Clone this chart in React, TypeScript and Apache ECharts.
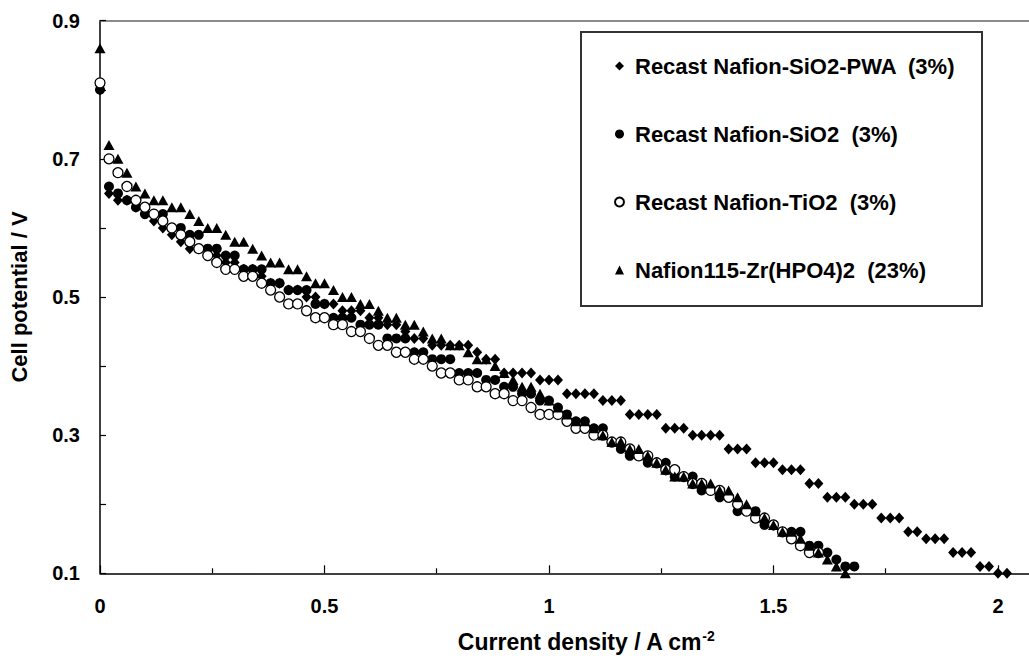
import React, { useEffect, useRef } from "react";
import * as echarts from "echarts";

// Current density (A cm^-2), shared x positions of the measured points
const currentDensity = [
  0, 0.02, 0.04, 0.06, 0.08, 0.1, 0.12, 0.14, 0.16, 0.18,
  0.2, 0.22, 0.24, 0.26, 0.28, 0.3, 0.32, 0.34, 0.36, 0.38,
  0.4, 0.42, 0.44, 0.46, 0.48, 0.5, 0.52, 0.54, 0.56, 0.58,
  0.6, 0.62, 0.64, 0.66, 0.68, 0.7, 0.72, 0.74, 0.76, 0.78,
  0.8, 0.82, 0.84, 0.86, 0.88, 0.9, 0.92, 0.94, 0.96, 0.98,
  1.0, 1.02, 1.04, 1.06, 1.08, 1.1, 1.12, 1.14, 1.16, 1.18,
  1.2, 1.22, 1.24, 1.26, 1.28, 1.3, 1.32, 1.34, 1.36, 1.38,
  1.4, 1.42, 1.44, 1.46, 1.48, 1.5, 1.52, 1.54, 1.56, 1.58,
  1.6, 1.62, 1.64, 1.66, 1.68, 1.7, 1.72, 1.74, 1.76, 1.78,
  1.8, 1.82, 1.84, 1.86, 1.88, 1.9, 1.92, 1.94, 1.96, 1.98,
  2.0, 2.02,
];

// Cell potential (V) per series
const pwaSiO2 = [
  0.80, 0.65, 0.64, 0.64, 0.63, 0.62, 0.61, 0.60, 0.59, 0.58,
  0.57, 0.57, 0.56, 0.56, 0.55, 0.55, 0.54, 0.54, 0.53, 0.52,
  0.52, 0.51, 0.51, 0.50, 0.50, 0.49, 0.49, 0.48, 0.48, 0.48,
  0.47, 0.47, 0.46, 0.46, 0.45, 0.44, 0.44, 0.43, 0.43, 0.43,
  0.43, 0.43, 0.42, 0.41, 0.41, 0.39, 0.39, 0.39, 0.39, 0.38,
  0.38, 0.38, 0.36, 0.36, 0.36, 0.36, 0.35, 0.35, 0.35, 0.33,
  0.33, 0.33, 0.33, 0.31, 0.31, 0.31, 0.30, 0.30, 0.30, 0.30,
  0.28, 0.28, 0.28, 0.26, 0.26, 0.26, 0.25, 0.25, 0.25, 0.23,
  0.23, 0.21, 0.21, 0.21, 0.20, 0.20, 0.20, 0.18, 0.18, 0.18,
  0.16, 0.16, 0.15, 0.15, 0.15, 0.13, 0.13, 0.13, 0.11, 0.11,
  0.10, 0.10,
];

const sio2 = [
  0.80, 0.66, 0.65, 0.64, 0.63, 0.62, 0.62, 0.62, 0.60, 0.60,
  0.59, 0.59, 0.57, 0.57, 0.56, 0.56, 0.54, 0.54, 0.54, 0.52,
  0.52, 0.51, 0.51, 0.51, 0.49, 0.49, 0.47, 0.47, 0.47, 0.46,
  0.46, 0.46, 0.44, 0.44, 0.44, 0.42, 0.42, 0.41, 0.41, 0.41,
  0.39, 0.39, 0.39, 0.38, 0.38, 0.37, 0.37, 0.36, 0.36, 0.35,
  0.35, 0.34, 0.33, 0.32, 0.32, 0.31, 0.31, 0.29, 0.28, 0.27,
  0.27, 0.26, 0.26, 0.26, 0.24, 0.24, 0.24, 0.22, 0.22, 0.21,
  0.21, 0.19, 0.19, 0.19, 0.17, 0.17, 0.16, 0.16, 0.16, 0.14,
  0.14, 0.13, 0.12, 0.11, 0.11,
];

const tio2 = [
  0.81, 0.70, 0.68, 0.66, 0.64, 0.63, 0.62, 0.61, 0.60, 0.59,
  0.58, 0.57, 0.56, 0.55, 0.54, 0.54, 0.53, 0.53, 0.52, 0.51,
  0.50, 0.49, 0.49, 0.48, 0.47, 0.47, 0.46, 0.46, 0.45, 0.45,
  0.44, 0.43, 0.43, 0.42, 0.42, 0.41, 0.41, 0.40, 0.39, 0.39,
  0.38, 0.38, 0.37, 0.37, 0.36, 0.36, 0.35, 0.35, 0.34, 0.33,
  0.33, 0.33, 0.32, 0.31, 0.31, 0.30, 0.30, 0.29, 0.29, 0.28,
  0.27, 0.27, 0.26, 0.25, 0.25, 0.24, 0.23, 0.23, 0.22, 0.22,
  0.21, 0.20, 0.19, 0.18, 0.18, 0.17, 0.16, 0.15, 0.14, 0.13,
  0.13,
];

const nafion115Zr = [
  0.86, 0.72, 0.70, 0.68, 0.66, 0.65, 0.64, 0.64, 0.63, 0.63,
  0.62, 0.61, 0.60, 0.60, 0.59, 0.58, 0.58, 0.57, 0.56, 0.55,
  0.55, 0.54, 0.54, 0.53, 0.52, 0.52, 0.51, 0.50, 0.50, 0.49,
  0.49, 0.48, 0.47, 0.47, 0.46, 0.46, 0.45, 0.44, 0.44, 0.43,
  0.43, 0.42, 0.41, 0.41, 0.40, 0.39, 0.38, 0.37, 0.37, 0.36,
  0.35, 0.34, 0.33, 0.32, 0.32, 0.31, 0.30, 0.29, 0.29, 0.28,
  0.28, 0.27, 0.26, 0.25, 0.24, 0.24, 0.23, 0.23, 0.23, 0.22,
  0.22, 0.21, 0.20, 0.19, 0.18, 0.17, 0.16, 0.16, 0.15, 0.14,
  0.13, 0.12, 0.11, 0.10,
];

const seriesNames = [
  "Recast Nafion-SiO2-PWA  (3%)",
  "Recast Nafion-SiO2  (3%)",
  "Recast Nafion-TiO2  (3%)",
  "Nafion115-Zr(HPO4)2  (23%)",
];

const yTickLabels = ["0.1", "0.3", "0.5", "0.7", "0.9"];

const FONT = "'Liberation Sans', Arial, Helvetica, sans-serif";

function pairs(values: number[]) {
  return values.map((v, i) => [currentDensity[i], v]);
}

export default function App() {
  const ref = useRef<HTMLDivElement>(null);

  useEffect(() => {
    if (!ref.current) return;
    const chart = echarts.init(ref.current, null, { renderer: "svg" });
    const option: any = {
      animation: false,
      backgroundColor: "#fff",
      textStyle: { fontFamily: FONT, fontWeight: "bold", color: "#000" },
      grid: {
        left: 100,
        top: 20.7,
        right: 0.2,
        bottom: 82.7,
        containLabel: false,
        outerBoundsMode: "none",
      },
      xAxis: [
        {
          type: "value",
          position: "bottom",
          min: 0,
          max: 2.2,
          interval: 0.5,
          axisLine: { show: true, lineStyle: { color: "#000", width: 1.5 } },
          axisTick: { show: true, inside: true, length: 8, lineStyle: { color: "#000", width: 1.2 } },
          minorTick: { show: true, splitNumber: 2, length: 5, lineStyle: { color: "#000", width: 1.2 } },
          splitLine: { show: false },
          minorSplitLine: { show: false },
          axisLabel: {
            margin: 23,
            color: "#000",
            fontSize: 20,
            fontWeight: "bold",
            fontFamily: FONT,
            showMaxLabel: false,
          },
          name: "{a|Current density / A cm}{b|-2}",
          nameLocation: "middle",
          nameGap: 56,
          nameTextStyle: {
            padding: [0, 16, 0, 0],
            rich: {
              a: { fontSize: 23, fontWeight: "bold", fontFamily: FONT, color: "#000", lineHeight: 26 },
              b: { fontSize: 14, fontWeight: "bold", fontFamily: FONT, color: "#000", verticalAlign: "top", lineHeight: 26 },
            },
          },
        },
        {
          type: "value",
          position: "top",
          min: 0,
          max: 2.2,
          axisLine: { show: true, lineStyle: { color: "#666", width: 1.5 } },
          axisTick: { show: false },
          axisLabel: { show: false },
          splitLine: { show: false },
        },
      ],
      yAxis: {
        type: "value",
        min: 0.1,
        max: 0.9,
        interval: 0.1,
        axisLine: { show: true, lineStyle: { color: "#000", width: 1.5 } },
        axisTick: { show: true, inside: true, length: 6, lineStyle: { color: "#000", width: 1.2 } },
        splitLine: { show: false },
        axisLabel: {
          margin: 20,
          color: "#000",
          fontSize: 20,
          fontWeight: "bold",
          fontFamily: FONT,
          formatter: (v: number) => {
            const s = (Math.round(v * 10) / 10).toFixed(1);
            return yTickLabels.indexOf(s) >= 0 ? s : "";
          },
        },
        name: "Cell potential / V",
        nameLocation: "middle",
        nameGap: 70,
        nameTextStyle: { fontSize: 22, fontWeight: "bold", fontFamily: FONT, color: "#000" },
      },
      legend: {
        orient: "vertical",
        left: 614,
        top: 54,
        padding: 0,
        itemWidth: 9,
        itemHeight: 9,
        itemGap: 44,
        selectedMode: false,
        data: seriesNames,
        textStyle: {
          fontSize: 22,
          fontWeight: "bold",
          fontFamily: FONT,
          color: "#000",
          lineHeight: 24,
          padding: [0, 0, 0, 6],
        },
      },
      graphic: [
        {
          type: "rect",
          z: 0,
          shape: { x: 581, y: 32, width: 401, height: 274 },
          style: { fill: "#fff", stroke: "#333", lineWidth: 2 },
        },
      ],
      series: [
        {
          name: seriesNames[0],
          type: "scatter",
          symbol: "diamond",
          symbolSize: [10, 11],
          itemStyle: { color: "#000", opacity: 1 },
          data: pairs(pwaSiO2),
        },
        {
          name: seriesNames[1],
          type: "scatter",
          symbol: "circle",
          symbolSize: 10,
          itemStyle: { color: "#000", opacity: 1 },
          data: pairs(sio2),
        },
        {
          name: seriesNames[2],
          type: "scatter",
          symbol: "circle",
          symbolSize: 10,
          itemStyle: { color: "#fff", borderColor: "#000", borderWidth: 1.3, opacity: 1 },
          data: pairs(tio2),
        },
        {
          name: seriesNames[3],
          type: "scatter",
          symbol: "triangle",
          symbolSize: [11, 10],
          itemStyle: { color: "#000", opacity: 1 },
          data: pairs(nafion115Zr),
        },
      ],
    };
    chart.setOption(option);
    return () => chart.dispose();
  }, []);

  return (
    <div
      style={{ position: "absolute", left: 0, top: 0, width: 1029, height: 656, overflow: "hidden", background: "#fff" }}
    >
      <div ref={ref} style={{ width: 1088, height: 656 }} />
    </div>
  );
}
